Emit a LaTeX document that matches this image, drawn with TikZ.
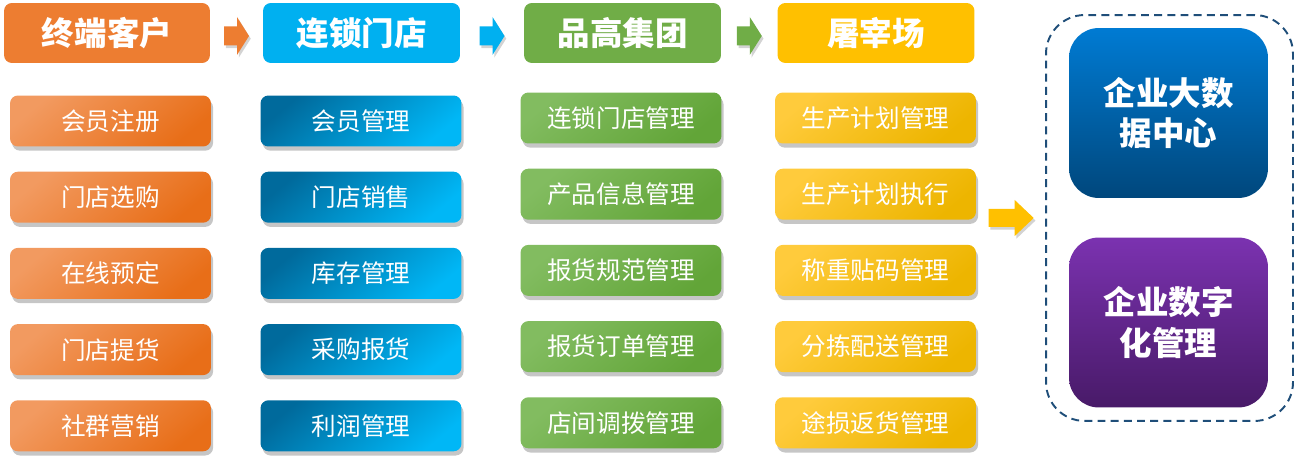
\documentclass[tikz,border=0pt]{standalone}
\usepackage{fontspec}
\setmainfont{Noto Sans CJK SC}
\usetikzlibrary{calc}
\usetikzlibrary{shadows}

\definecolor{cO}{HTML}{ED7D31}
\definecolor{cB}{HTML}{00B0F0}
\definecolor{cG}{HTML}{70AD47}
\definecolor{cY}{HTML}{FFC000}
\definecolor{cDash}{HTML}{1F4E79}
\definecolor{oTop}{HTML}{F29A60}
\definecolor{oBot}{HTML}{E86E18}
\definecolor{bTop}{HTML}{006A9C}
\definecolor{bBot}{HTML}{00B7F6}
\definecolor{gTop}{HTML}{82BC60}
\definecolor{gBot}{HTML}{62A538}
\definecolor{yTop}{HTML}{FFCB3C}
\definecolor{yBot}{HTML}{EDB500}
\definecolor{dTop}{HTML}{007BD3}
\definecolor{dBot}{HTML}{00477C}
\definecolor{pTop}{HTML}{7B32B0}
\definecolor{pBot}{HTML}{481A68}

\tikzset{
    hdr/.style={rounded corners=4.5pt,minimum width=3.94cm,minimum height=1.2cm,
        text=white,font=\fontsize{18.5}{20}\selectfont\bfseries,inner sep=0pt},
    item/.style={rounded corners=4.5pt,minimum width=4.02cm,minimum height=1.02cm,
        text=white,font=\fontsize{14}{16}\selectfont,inner sep=0pt,
        drop shadow={shadow xshift=1.2pt,shadow yshift=-2.4pt,opacity=.45}},
    itemO/.style={item,top color=oTop,bottom color=oBot,shading angle=40},
    itemB/.style={item,top color=bTop,bottom color=bBot,shading angle=40},
    itemG/.style={item,top color=gTop,bottom color=gBot,shading angle=40},
    itemY/.style={item,top color=yTop,bottom color=yBot,shading angle=40},
    bigbox/.style={rounded corners=17pt,minimum width=3.98cm,minimum height=3.4cm,
        text=white,font=\fontsize{18.5}{23}\selectfont\bfseries,align=center,inner sep=0pt},
    blockarr/.style={drop shadow={shadow xshift=1pt,shadow yshift=-1.5pt,opacity=.35}}
}

\begin{document}
\begin{tikzpicture}[x=0.02cm,y=-0.02cm]
    \useasboundingbox (0,0) rectangle (1294,469);
    % right frame
    \node[draw=cDash,line width=1.1pt,dash pattern=on 4.5pt off 3pt,rounded corners=22pt,
        minimum width=4.94cm,minimum height=8.12cm] (frame) at (1169.5,218) {};
    \node[bigbox,top color=dTop,bottom color=dBot] (data) at (1168.5,113) {企业大数\\据中心};
    \node[bigbox,top color=pTop,bottom color=pBot] (mgmt) at (1168.5,322.5) {企业数字\\化管理};
    % headers
    \node[hdr,fill=cO,minimum width=4.12cm] (h1) at (107,33) {终端客户};
    \node[hdr,fill=cB] (h2) at (361.5,33) {连锁门店};
    \node[hdr,fill=cG] (h3) at (622.5,33) {品高集团};
    \node[hdr,fill=cY] (h4) at (876,33) {屠宰场};
    % arrows between headers
    \foreach \a/\b/\c in {h1/h2/cO,h2/h3/cB,h3/h4/cG}
    {
        \path ($(\a.east)!0.5!(\b.west)+(0,3)$) coordinate (m\a);
        \fill[\c,blockarr] ($(m\a)+(-12.5,-9.5)$) -- ++(13,0) -- ++(0,-9.5) -- ++(12,19)
            -- ++(-12,19) -- ++(0,-9.5) -- ++(-13,0) -- cycle;
    }
    % item columns
    \foreach \t [count=\i] in {会员注册,门店选购,在线预定,门店提货,社群营销}
    {
        \node[itemO] (c1r\i) at (110.5,{121+76.2*(\i-1)}) {\t};
    }
    \foreach \t [count=\i] in {会员管理,门店销售,库存管理,采购报货,利润管理}
    {
        \node[itemB] (c2r\i) at (361,{121+76.2*(\i-1)}) {\t};
    }
    \foreach \t [count=\i] in {连锁门店管理,产品信息管理,报货规范管理,报货订单管理,店间调拨管理}
    {
        \node[itemG] (c3r\i) at (621,{118+76.2*(\i-1)}) {\t};
    }
    \foreach \t [count=\i] in {生产计划管理,生产计划执行,称重贴码管理,分拣配送管理,途损返货管理}
    {
        \node[itemY] (c4r\i) at (875.5,{118+76.2*(\i-1)}) {\t};
    }
    % arrow to frame
    \path ($(c4r2.east |- frame.west)!0.5!(frame.west)$) coordinate (mr);
    \fill[cY,blockarr] ($(mr)+(-22,-9)$) -- ++(26,0) -- ++(0,-9) -- ++(19,18)
        -- ++(-19,18) -- ++(0,-9) -- ++(-26,0) -- cycle;
\end{tikzpicture}
\end{document}
